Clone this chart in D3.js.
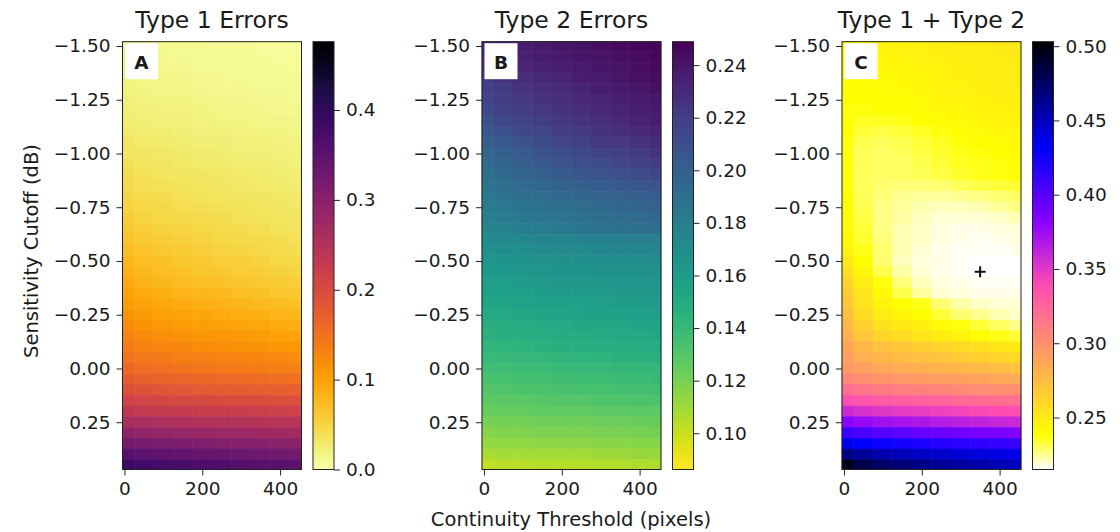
<!DOCTYPE html>
<html>
<head>
<meta charset="utf-8">
<script src="https://cdn.jsdelivr.net/npm/d3@7/dist/d3.min.js"></script>
<style>
  body { margin: 0; background: #fff; }
  svg text { font-family: "DejaVu Sans", sans-serif; fill: #1a1a1a; }
</style>
</head>
<body>
<svg id="chart" width="1120" height="532"></svg>
<script>
// rows of every grid: sensitivity cutoff (dB), top to bottom
const sensitivityCutoffs = [-1.50, -1.45, -1.40, -1.35, -1.30, -1.25, -1.20, -1.15, -1.10, -1.05,
  -1.00, -0.95, -0.90, -0.85, -0.80, -0.75, -0.70, -0.65, -0.60, -0.55,
  -0.50, -0.45, -0.40, -0.35, -0.30, -0.25, -0.20, -0.15, -0.10, -0.05,
  0.00, 0.05, 0.10, 0.15, 0.20, 0.25, 0.30, 0.35, 0.40, 0.45];
// columns: continuity threshold (pixels)
const continuityThresholds = [0, 50, 100, 150, 200, 250, 300, 350, 400, 450];

const type1Errors = [
  [.014, .012, .011, .010, .010, .009, .008, .007, .007, .006],
  [.015, .013, .012, .011, .010, .009, .008, .008, .007, .006],
  [.016, .014, .013, .012, .011, .010, .009, .009, .008, .007],
  [.018, .016, .015, .014, .013, .012, .011, .010, .009, .008],
  [.020, .018, .016, .015, .014, .013, .012, .011, .010, .009],
  [.022, .020, .018, .017, .016, .015, .014, .013, .012, .011],
  [.024, .022, .020, .019, .017, .016, .015, .014, .013, .012],
  [.026, .024, .022, .021, .019, .018, .017, .016, .015, .014],
  [.029, .026, .025, .023, .022, .021, .020, .018, .017, .016],
  [.032, .029, .027, .026, .024, .023, .022, .021, .019, .018],
  [.035, .032, .030, .028, .027, .025, .024, .023, .021, .020],
  [.038, .035, .033, .031, .029, .028, .026, .025, .023, .022],
  [.041, .038, .035, .033, .032, .030, .029, .027, .026, .024],
  [.044, .040, .038, .036, .034, .032, .031, .029, .028, .026],
  [.048, .044, .041, .039, .037, .035, .033, .032, .030, .028],
  [.052, .048, .045, .042, .040, .038, .036, .034, .032, .030],
  [.056, .051, .048, .045, .043, .041, .038, .036, .034, .032],
  [.061, .056, .052, .049, .047, .044, .042, .040, .037, .035],
  [.066, .060, .056, .053, .051, .048, .046, .043, .041, .038],
  [.072, .066, .061, .058, .055, .052, .049, .047, .044, .041],
  [.078, .071, .067, .063, .060, .057, .054, .051, .048, .045],
  [.084, .077, .072, .069, .065, .062, .059, .056, .053, .050],
  [.090, .083, .078, .074, .071, .068, .064, .061, .058, .055],
  [.097, .090, .085, .081, .078, .075, .071, .068, .065, .062],
  [.104, .097, .092, .089, .085, .082, .079, .076, .073, .070],
  [.112, .105, .100, .097, .093, .090, .087, .084, .081, .078],
  [.120, .113, .109, .105, .102, .099, .096, .093, .090, .087],
  [.129, .123, .118, .115, .111, .109, .106, .103, .100, .097],
  [.138, .132, .128, .125, .122, .119, .116, .113, .111, .108],
  [.148, .142, .138, .135, .133, .130, .128, .125, .123, .120],
  [.160, .155, .151, .148, .145, .143, .140, .138, .135, .133],
  [.175, .170, .167, .164, .161, .159, .157, .155, .152, .150],
  [.193, .188, .185, .183, .180, .178, .176, .174, .172, .170],
  [.213, .209, .206, .204, .201, .200, .198, .196, .194, .192],
  [.235, .231, .228, .226, .224, .222, .220, .219, .217, .215],
  [.262, .258, .255, .252, .250, .248, .246, .244, .242, .240],
  [.293, .288, .285, .282, .279, .277, .275, .273, .270, .268],
  [.325, .319, .315, .312, .309, .306, .304, .301, .299, .296],
  [.357, .351, .346, .343, .339, .337, .334, .331, .328, .325],
  [.390, .380, .375, .371, .367, .363, .359, .356, .352, .348]
];

const type2Errors = [
  [.232, .234, .236, .238, .240, .241, .243, .244, .246, .247],
  [.229, .232, .234, .236, .238, .240, .241, .243, .244, .246],
  [.226, .229, .232, .234, .236, .238, .240, .241, .243, .245],
  [.222, .225, .228, .231, .233, .236, .238, .240, .242, .244],
  [.219, .222, .226, .228, .231, .233, .236, .238, .240, .242],
  [.216, .220, .223, .226, .228, .231, .233, .235, .238, .240],
  [.213, .217, .220, .223, .226, .228, .231, .233, .236, .238],
  [.209, .213, .217, .220, .223, .226, .228, .231, .234, .236],
  [.205, .209, .213, .216, .220, .222, .225, .228, .230, .233],
  [.200, .204, .208, .212, .215, .218, .221, .223, .226, .229],
  [.196, .200, .204, .208, .211, .214, .217, .219, .222, .225],
  [.193, .197, .201, .204, .207, .210, .212, .215, .218, .220],
  [.190, .194, .197, .200, .202, .205, .207, .209, .212, .214],
  [.187, .190, .193, .196, .198, .200, .202, .204, .206, .208],
  [.184, .187, .190, .192, .194, .196, .198, .199, .201, .203],
  [.181, .184, .186, .188, .190, .192, .194, .196, .197, .199],
  [.178, .181, .183, .185, .187, .189, .190, .192, .193, .195],
  [.175, .177, .180, .182, .183, .185, .187, .188, .190, .191],
  [.171, .172, .174, .175, .176, .177, .177, .178, .179, .180],
  [.168, .169, .170, .171, .172, .172, .173, .174, .174, .175],
  [.164, .165, .166, .167, .168, .168, .169, .170, .170, .171],
  [.161, .162, .163, .164, .165, .165, .166, .167, .167, .168],
  [.158, .159, .160, .161, .162, .162, .163, .164, .164, .165],
  [.156, .157, .158, .159, .160, .160, .161, .162, .162, .163],
  [.153, .154, .155, .156, .157, .157, .158, .159, .159, .160],
  [.150, .151, .152, .153, .154, .155, .156, .156, .157, .158],
  [.147, .148, .149, .150, .151, .152, .153, .153, .154, .155],
  [.145, .146, .147, .148, .149, .149, .150, .151, .151, .152],
  [.142, .143, .144, .145, .146, .146, .147, .148, .148, .149],
  [.139, .140, .141, .142, .143, .143, .144, .145, .145, .146],
  [.136, .137, .138, .138, .139, .140, .140, .141, .141, .142],
  [.133, .134, .135, .135, .136, .137, .137, .138, .138, .139],
  [.130, .131, .132, .132, .133, .134, .134, .135, .135, .136],
  [.127, .128, .128, .129, .130, .130, .131, .131, .132, .132],
  [.124, .125, .125, .126, .126, .126, .127, .127, .128, .128],
  [.120, .121, .121, .122, .122, .122, .123, .123, .124, .124],
  [.116, .117, .117, .118, .118, .118, .119, .119, .120, .120],
  [.112, .113, .113, .114, .114, .114, .115, .115, .116, .116],
  [.107, .108, .108, .109, .109, .109, .110, .110, .111, .111],
  [.102, .103, .103, .104, .104, .104, .105, .105, .106, .106]
];

const totalErrors = [
  [.242, .243, .244, .245, .246, .247, .248, .249, .250, .251],
  [.241, .242, .243, .244, .245, .246, .247, .248, .249, .250],
  [.240, .241, .242, .243, .244, .245, .246, .247, .248, .249],
  [.239, .240, .241, .242, .243, .245, .246, .247, .248, .249],
  [.238, .239, .240, .241, .242, .244, .245, .246, .247, .248],
  [.238, .238, .239, .240, .241, .243, .244, .245, .246, .247],
  [.237, .237, .238, .239, .240, .242, .243, .244, .245, .246],
  [.238, .235, .235, .236, .238, .240, .241, .243, .244, .245],
  [.238, .233, .232, .233, .235, .237, .239, .241, .242, .243],
  [.237, .231, .230, .231, .233, .235, .237, .239, .240, .241],
  [.237, .230, .229, .230, .232, .234, .236, .237, .239, .240],
  [.237, .230, .229, .229, .231, .233, .235, .236, .237, .238],
  [.237, .230, .229, .229, .230, .232, .234, .236, .237, .238],
  [.237, .230, .228, .227, .227, .228, .230, .232, .233, .234],
  [.238, .230, .227, .225, .224, .224, .225, .226, .228, .229],
  [.239, .231, .226, .224, .222, .221, .221, .222, .224, .226],
  [.240, .232, .226, .223, .221, .219, .219, .219, .220, .222],
  [.241, .233, .226, .222, .220, .218, .217, .217, .218, .219],
  [.242, .234, .227, .222, .220, .218, .217, .216, .217, .218],
  [.244, .236, .228, .222, .219, .217, .216, .216, .216, .217],
  [.251, .238, .228, .221, .218, .217, .216, .215, .215, .215],
  [.256, .243, .231, .223, .219, .217, .216, .215, .215, .215],
  [.262, .249, .237, .227, .221, .218, .217, .216, .216, .216],
  [.266, .253, .241, .231, .224, .219, .218, .217, .217, .217],
  [.270, .254, .244, .240, .236, .228, .223, .220, .219, .219],
  [.275, .258, .248, .243, .238, .233, .228, .225, .222, .220],
  [.280, .264, .255, .250, .246, .241, .237, .233, .229, .226],
  [.284, .270, .262, .257, .253, .248, .244, .240, .236, .233],
  [.289, .279, .273, .269, .266, .262, .259, .256, .252, .249],
  [.292, .284, .279, .276, .274, .271, .268, .265, .262, .259],
  [.297, .292, .288, .285, .283, .281, .279, .277, .275, .273],
  [.306, .302, .299, .297, .295, .293, .291, .290, .288, .286],
  [.320, .316, .313, .311, .309, .307, .305, .303, .302, .300],
  [.338, .334, .331, .329, .327, .325, .323, .321, .320, .318],
  [.358, .354, .351, .349, .347, .345, .343, .341, .339, .337],
  [.382, .377, .373, .371, .369, .366, .364, .362, .360, .358],
  [.409, .404, .400, .397, .394, .392, .390, .388, .386, .384],
  [.437, .431, .427, .424, .421, .418, .416, .414, .412, .410],
  [.466, .459, .454, .451, .448, .445, .443, .441, .439, .437],
  [.495, .482, .474, .469, .465, .461, .458, .455, .452, .449]
];

// best combination, marked with a cross on panel C
const bestPoint = { threshold: 350, cutoff: -0.45 };

const yTicks = [-1.50, -1.25, -1.00, -0.75, -0.50, -0.25, 0.00, 0.25];
const xTicks = [0, 200, 400];
const type1CbarTicks = [0.0, 0.1, 0.2, 0.3, 0.4];
const type2CbarTicks = [0.10, 0.12, 0.14, 0.16, 0.18, 0.20, 0.22, 0.24];
const totalCbarTicks = [0.25, 0.30, 0.35, 0.40, 0.45, 0.50];

// matplotlib gnuplot2 colormap
function gnuplot2(x) {
    const c = v => Math.max(0, Math.min(1, v));
    const r = c(x / 0.32 - 0.78125);
    const g = c(2 * x - 0.84);
    const b = c(x < 0.25 ? 4 * x : x < 0.42 ? 1 : x < 0.92 ? -2 * x + 1.84 : x / 0.08 - 11.5);
    return d3.rgb(r * 255, g * 255, b * 255).formatHex();
}

const svg = d3.select("#chart");
const plotTop = 41.7, plotBottom = 469.5, plotW = 179, cbW = 21;
const xDom = [-5, 455], yDom = [-1.52, 0.47];
const tickFont = 18.5;

const panels = [
    { tag: "A", title: "Type 1 Errors", values: type1Errors, x0: 122.5, cbX: 313,
      dom: [0, 0.476], cmap: t => d3.interpolateInferno(1 - t), ticks: type1CbarTicks, fmt: d3.format(".1f") },
    { tag: "B", title: "Type 2 Errors", values: type2Errors, x0: 482, cbX: 672.5,
      dom: [0.0862, 0.2489], cmap: t => d3.interpolateViridis(1 - t), ticks: type2CbarTicks, fmt: d3.format(".2f") },
    { tag: "C", title: "Type 1 + Type 2", values: totalErrors, x0: 842, cbX: 1032.5,
      dom: [0.215, 0.503], cmap: t => gnuplot2(1 - t), ticks: totalCbarTicks, fmt: d3.format(".2f") }
];

const y = d3.scaleLinear().domain(yDom).range([plotTop, plotBottom]);
const defs = svg.append("defs");

function styleAxis(a) {
    a.select(".domain").remove();
    a.selectAll("line").attr("stroke", "#222");
    a.selectAll("text").attr("font-size", tickFont).attr("fill", "#1a1a1a").style("font-family", "DejaVu Sans");
}

panels.forEach(p => {
    const x = d3.scaleLinear().domain(xDom).range([p.x0, p.x0 + plotW]);
    const norm = d3.scaleLinear().domain(p.dom).range([0, 1]).clamp(true);
    const color = v => p.cmap(norm(v));

    const cells = [];
    sensitivityCutoffs.forEach((s, i) => {
        continuityThresholds.forEach((c, j) => {
            cells.push({ s, c, v: p.values[i][j] });
        });
    });

    const g = svg.append("g");
    g.selectAll("rect.cell")
        .data(cells)
        .join("rect")
        .attr("class", "cell")
        .attr("x", d => x(Math.max(xDom[0], d.c - 25)))
        .attr("width", d => x(Math.min(xDom[1], d.c + 25)) - x(Math.max(xDom[0], d.c - 25)))
        .attr("y", d => y(Math.max(yDom[0], d.s - 0.025)))
        .attr("height", d => y(Math.min(yDom[1], d.s + 0.025)) - y(Math.max(yDom[0], d.s - 0.025)))
        .attr("fill", d => color(d.v))
        .attr("stroke", d => color(d.v))
        .attr("stroke-width", 0.6);

    // panel letter
    g.append("rect")
        .attr("x", p.x0 + 2.5).attr("y", plotTop + 1.5)
        .attr("width", 33).attr("height", 36)
        .attr("fill", "#fff");
    g.append("text")
        .attr("x", p.x0 + 19).attr("y", plotTop + 27)
        .attr("text-anchor", "middle")
        .attr("font-weight", "bold")
        .attr("font-size", 18.5)
        .text(p.tag);

    if (p.tag === "C") {
        const cx = x(bestPoint.threshold), cy = y(bestPoint.cutoff);
        g.append("path")
            .attr("d", `M${cx - 5.5},${cy}H${cx + 5.5}M${cx},${cy - 5.5}V${cy + 5.5}`)
            .attr("stroke", "#111").attr("stroke-width", 2);
    }

    g.append("rect")
        .attr("x", p.x0).attr("y", plotTop)
        .attr("width", plotW).attr("height", plotBottom - plotTop)
        .attr("fill", "none").attr("stroke", "#222").attr("stroke-width", 1);

    g.append("g")
        .attr("transform", `translate(${p.x0},0)`)
        .call(d3.axisLeft(y).tickValues(yTicks).tickFormat(d3.format(".2f")).tickSize(6).tickPadding(6))
        .call(styleAxis);
    g.append("g")
        .attr("transform", `translate(0,${plotBottom})`)
        .call(d3.axisBottom(x).tickValues(xTicks).tickFormat(d3.format("d")).tickSize(6).tickPadding(6))
        .call(styleAxis);

    g.append("text")
        .attr("x", p.x0 + plotW / 2).attr("y", 28)
        .attr("text-anchor", "middle")
        .attr("font-size", 23.5)
        .text(p.title);

    // colorbar
    const gid = "grad" + p.tag;
    const grad = defs.append("linearGradient")
        .attr("id", gid).attr("x1", 0).attr("y1", 1).attr("x2", 0).attr("y2", 0);
    d3.range(0, 129).forEach(k => {
        const t = k / 128;
        grad.append("stop").attr("offset", t).attr("stop-color", p.cmap(t));
    });
    g.append("rect")
        .attr("x", p.cbX).attr("y", plotTop)
        .attr("width", cbW).attr("height", plotBottom - plotTop)
        .attr("fill", `url(#${gid})`)
        .attr("stroke", "#222").attr("stroke-width", 1);
    const cb = d3.scaleLinear().domain(p.dom).range([plotBottom, plotTop]);
    g.append("g")
        .attr("transform", `translate(${p.cbX + cbW},0)`)
        .call(d3.axisRight(cb).tickValues(p.ticks).tickFormat(p.fmt).tickSize(6).tickPadding(6))
        .call(styleAxis);
});

svg.append("text")
    .attr("x", 571).attr("y", 526)
    .attr("text-anchor", "middle")
    .attr("font-size", 19.5)
    .text("Continuity Threshold (pixels)");

svg.append("text")
    .attr("transform", "translate(38,251) rotate(-90)")
    .attr("text-anchor", "middle")
    .attr("font-size", 19.5)
    .text("Sensitivity Cutoff (dB)");
</script>
</body>
</html>
